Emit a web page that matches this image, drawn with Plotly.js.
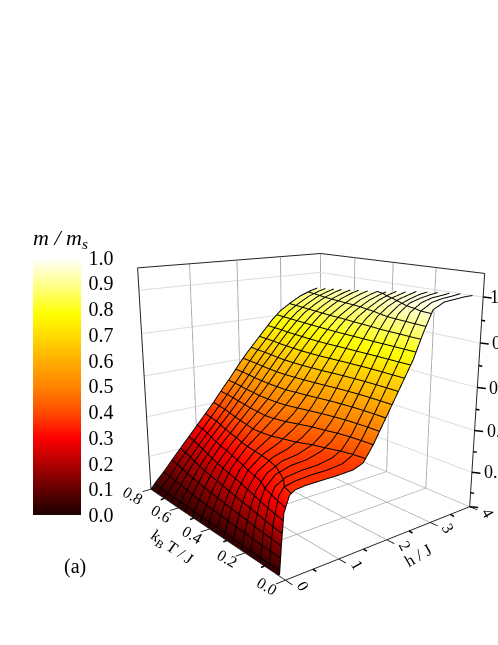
<!DOCTYPE html>
<html><head><meta charset="utf-8">
<script src="https://cdn.plot.ly/plotly-3.0.1.min.js"></script>
<style>html,body{margin:0;padding:0;background:#fff;overflow:hidden;height:645px}#w{width:498px;height:645px;overflow:hidden}#c{width:498px;height:703px}</style>
</head><body><div id="w"><div id="c"></div></div>
<script>
const hField=[0,.05,.1,.2,.3,.5,.8,1.1,1.4,1.6,1.8,2,2.2,2.4,2.6,2.8,3,3.25,3.5,3.75,3.92];
const temperature=[.03,.08,.125,.175,.22,.27,.32,.365,.415,.46,.51,.56,.605,.655,.7,.75,.8];
const magnetization=[
[.03,.15,.28,.345,.36,.365,.365,.365,.368,.385,.45,.53,.61,.69,.77,.875,.965,.99,.995,1,1],
[.03,.12,.22,.32,.35,.36,.365,.365,.372,.395,.455,.53,.61,.69,.77,.865,.95,.98,.99,.995,1],
[.03,.10,.18,.28,.33,.355,.365,.367,.38,.405,.46,.535,.61,.69,.77,.855,.935,.97,.985,.99,.995],
[.03,.085,.15,.24,.30,.345,.365,.37,.39,.42,.47,.54,.615,.69,.77,.85,.92,.96,.975,.985,.99],
[.03,.075,.125,.21,.27,.33,.365,.375,.40,.435,.485,.55,.62,.695,.77,.845,.905,.945,.965,.98,.985],
[.03,.065,.11,.19,.245,.315,.36,.38,.415,.45,.50,.56,.63,.70,.77,.835,.89,.93,.955,.97,.98],
[.03,.06,.10,.17,.225,.30,.355,.385,.43,.465,.515,.575,.64,.705,.77,.83,.875,.915,.945,.96,.97],
[.03,.055,.09,.155,.205,.285,.35,.395,.445,.48,.53,.585,.65,.71,.77,.825,.87,.905,.935,.955,.965],
[.03,.052,.085,.14,.19,.27,.345,.40,.455,.495,.54,.595,.655,.715,.77,.82,.86,.895,.925,.945,.955],
[.03,.05,.08,.13,.175,.255,.335,.40,.46,.50,.55,.60,.66,.715,.77,.815,.855,.89,.92,.94,.95],
[.03,.048,.075,.12,.165,.24,.32,.39,.455,.50,.55,.605,.66,.715,.765,.81,.85,.885,.915,.935,.945],
[.03,.046,.07,.11,.15,.225,.31,.38,.45,.50,.55,.605,.66,.71,.76,.805,.845,.88,.91,.93,.94],
[.03,.045,.065,.10,.14,.21,.295,.37,.44,.49,.545,.60,.655,.705,.755,.80,.84,.875,.905,.925,.935],
[.03,.043,.062,.09,.13,.195,.28,.355,.43,.485,.54,.595,.645,.70,.75,.795,.835,.87,.90,.92,.93],
[.03,.042,.058,.085,.12,.18,.265,.34,.42,.475,.53,.585,.64,.69,.74,.79,.83,.865,.895,.915,.925],
[.03,.041,.056,.08,.11,.17,.25,.33,.41,.465,.52,.58,.635,.685,.735,.785,.825,.86,.89,.91,.92],
[.03,.04,.055,.08,.105,.16,.24,.32,.40,.46,.515,.575,.63,.68,.73,.78,.82,.855,.885,.905,.915]];
const levels=[.05,.1,.15,.2,.25,.3,.35,.4,.45,.5,.55,.6,.65,.7,.75,.8,.85,.9,.95];
const colorStops=[[0,'#1c0000'],[.1,'#640000'],[.2,'#b00000'],[.3,'#ff0000'],[.4,'#ff4c00'],[.5,'#ff8400'],[.6,'#ffae00'],[.7,'#ffdc00'],[.78,'#ffff00'],[.9,'#ffff90'],[1,'#ffffff']];
const barTicks=[0,.1,.2,.3,.4,.5,.6,.7,.8,.9,1];
const barLabels=['0.0','0.1','0.2','0.3','0.4','0.5','0.6','0.7','0.8','0.9','1.0'];
const hTicks=[0,1,2,3,4], tTicks=[0,.2,.4,.6,.8], zTicks=[.2,.4,.6,.8,1];
const hMinor=[.5,1.5,2.5,3.5], tMinor=[.1,.3,.5,.7], zMinor=[.1,.3,.5,.7,.9];
const serif='"Liberation Serif","Times New Roman",serif';
const FH=703;
function ann(x,y,z,text,angle,size,xs,ys,anchor){return {x,y,z,text,textangle:angle,showarrow:false,xshift:xs,yshift:ys,xanchor:anchor||'center',font:{family:serif,size:size,color:'#000'}};}
function tick(x,y,z,ax,ay){return {x,y,z,text:'',showarrow:true,arrowhead:0,arrowwidth:1.5,arrowcolor:'#000',standoff:0,ax,ay};}
const anns=[];
tTicks.forEach(v=>anns.push(ann(0,v,.03,v.toFixed(1),30,16,-18,-6)));
hTicks.forEach(v=>anns.push(ann(v,0,.03,String(v),60,16,18,-6)));
zTicks.forEach(v=>{anns.push(ann(4,0,v,v===1?'1.0':v.toFixed(1),0,18,v===1?5:10,0,'left'));anns.push(tick(4,0,v,10,1));});
zMinor.forEach(v=>anns.push(tick(4,0,v,5,1)));
anns.push(tick(4,0,.03,10,1));
hMinor.forEach(v=>anns.push(tick(v,0,.03,5,3)));
tMinor.forEach(v=>anns.push(tick(0,v,.03,-5,2)));
anns.push(ann(0,.45,.03,'k<sub>B</sub> T / J',35,16,-30,-24));
anns.push(ann(2.3,0,.03,'h / J',-30,17,18,-21));
const axBase={showbackground:true,backgroundcolor:'#fff',showline:true,linecolor:'#222',linewidth:2,mirror:true,ticks:'outside',ticklen:8,tickcolor:'#000',tickwidth:2,showticklabels:false,zeroline:false,showspikes:false,gridwidth:2,title:{text:''}};
const surf={type:'surface',x:hField,y:temperature,z:magnetization,cmin:0,cmax:1,colorscale:colorStops,
 lighting:{ambient:1,diffuse:0,specular:0,roughness:1,fresnel:0},
 hoverinfo:'skip',
 colorbar:{x:33/498,xanchor:'left',y:(FH-515)/FH,yanchor:'bottom',lenmode:'pixels',len:290,thicknessmode:'pixels',thickness:48,
  tickmode:'array',tickvals:barTicks,ticktext:barLabels,ticks:'outside',ticklen:4,tickcolor:'rgba(0,0,0,0)',outlinewidth:0,xpad:0,ypad:0,
  tickfont:{family:serif,size:20,color:'#000'},
  title:{text:'<i>m / m</i><sub><i>s</i></sub>',side:'top',font:{family:serif,size:22,color:'#000'}}}};
const lx=[],ly=[],lz=[];
const nudge=(h,t,z)=>{lx.push(Math.max(0,h-.012));ly.push(Math.max(0,t-.0025));lz.push(z+.004);};
const gap=()=>{lx.push(null);ly.push(null);lz.push(null);};
temperature.forEach((t,i)=>{hField.forEach((h,j)=>nudge(h,t,magnetization[i][j]));gap();});
levels.forEach(lv=>{
 temperature.forEach((t,i)=>{
  const r=magnetization[i];let j=r.findIndex(v=>v>=lv);
  if(j<1){gap();return;}
  const f=(lv-r[j-1])/(r[j]-r[j-1]);
  nudge(hField[j-1]+f*(hField[j]-hField[j-1]),t,lv);
 });gap();
});
const mesh={type:'scatter3d',mode:'lines',x:lx,y:ly,z:lz,line:{color:'#000',width:2},hoverinfo:'skip',showlegend:false,connectgaps:false};
const layout={width:498,height:FH,margin:{l:0,r:0,t:0,b:0},paper_bgcolor:'#fff',showlegend:false,
 annotations:[{xref:'paper',yref:'paper',x:75/498,y:1-566/FH,xanchor:'center',yanchor:'middle',text:'(a)',showarrow:false,font:{family:serif,size:20,color:'#000'}}],
 scene:{domain:{x:[114/498,1],y:[2/FH,626/FH]},aspectmode:'manual',aspectratio:{x:.97,y:1,z:.98},
  camera:{eye:{x:-1.868,y:-2.367,z:.85},center:{x:0,y:0,z:0},up:{x:0,y:0,z:1}},
  xaxis:Object.assign({},axBase,{range:[0,4],tickmode:'array',tickvals:hTicks,gridcolor:'#aaa'}),
  yaxis:Object.assign({},axBase,{range:[0,.8],tickmode:'array',tickvals:tTicks,gridcolor:'#aaa'}),
  zaxis:Object.assign({},axBase,{range:[.03,1.1],tickmode:'array',tickvals:zTicks,ticks:'',gridcolor:'#ddd'}),
  annotations:anns}};
Plotly.newPlot('c',[surf,mesh],layout,{displayModeBar:false});
</script></body></html>
